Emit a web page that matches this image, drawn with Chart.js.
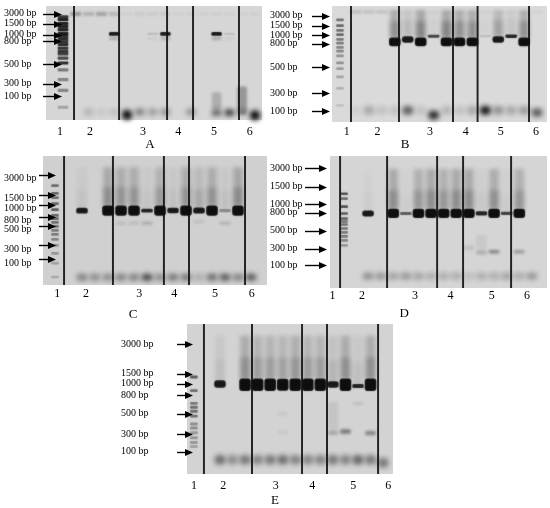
<!DOCTYPE html>
<html><head><meta charset="utf-8">
<script src="https://cdn.jsdelivr.net/npm/chart.js@4.4.1/dist/chart.umd.min.js"></script>
<style>
html,body{margin:0;padding:0;background:#fff;}
body{width:550px;height:508px;position:relative;overflow:hidden;}
canvas{position:absolute;}
</style></head><body>
<canvas id="cA"></canvas><canvas id="cB"></canvas><canvas id="cC"></canvas><canvas id="cD"></canvas><canvas id="cE"></canvas>
<script>
// ---------- shared labels ----------
const markerLabels = ['3000 bp','1500 bp','1000 bp','800 bp','500 bp','300 bp','100 bp'];
const laneNumbers = ['1','2','3','4','5','6'];
const panelLetters = ['A','B','C','D','E'];

// ---------- Panel A (migration in % of gel length, lanes 1..15) ----------
const A_tickPos = [6.9, 15.5, 25, 31, 51, 68, 79];
const A_groupPos = [-0.23, 2.1, 6.25, 9, 11.8, 14.6];
const A_sepPos = [0.86, 4.38, 8.13, 10.16, 13.75];
const A_ladderPos = [9.5,12,15.5,18,20.7,24,25.9,28.4,31,33.6,37,39.7,42,45.7,50,56,64.6,74,88.8];
const A_ladderInt = [0.8,0.9,0.9,0.9,0.9,0.9,0.85,0.85,0.8,0.85,0.8,0.8,0.75,0.7,0.85,0.45,0.4,0.4,0.25];
const A_prodPos = [24.5,24.5,24.5,24.5,24.5,24.5,24.5,24.5,24.5,24.5,24.5,24.5,24.5,24.5,24.5];
const A_prodInt = [0,0,0,0.95,0,0,0.12,0.95,0,0,0,0.95,0.1,0,0];
const A_prodThk = [0,0,0,2.8,0,0,1.5,2.8,0,0,0,2.8,1.5,0,0];
const A_smear = [0,0,0,0,0,0,0,0,0,0,0,0,0,0,0];
const A_wellInt = [0.3,0.18,0.25,0.15,0.03,0.05,0.05,0.06,0.03,0.03,0.03,0.03,0.03,0.03,0.03];
const A_dimerPos = [93,93,93,93,95.5,93,93,93,93,93,93,93.5,93.5,93,96];
const A_dimerInt = [0,0.18,0.08,0.12,1,0.45,0.3,0.35,0,0.35,0,0.6,0.8,0.25,1];
const A_dimerThk = [5,5,5,5,8,5,5,5,5,5,5,5,5,5,8];
const A_minor = [[4,28.5,1.5,0.3],[8,28.5,1.5,0.25],[12,28.5,1.5,0.3],[7,28.5,1.2,0.08],[13,28.5,1.2,0.08],[12,83,14,0.2],[14,83,24,0.32]];

// ---------- Panel B ----------
const B_tickPos = [8.5, 17, 25.4, 32.4, 52.5, 75.2, 90.7];
const B_groupPos = [0.28, 2.65, 6.72, 9.49, 12.19, 14.92];
const B_sepPos = [0.61, 4.32, 8.5, 10.4, 14.38];
const B_ladderPos = [12,17,21,24.6,28.8,32,35.6,39,43,49,54,61,71,85.6];
const B_ladderInt = [0.5,0.55,0.5,0.55,0.45,0.45,0.4,0.4,0.35,0.35,0.3,0.25,0.2,0.12];
const B_prodPos = [31,31,31,31,28.8,31,26,31,31,31,26,28.8,26,31,31];
const B_prodInt = [0,0,0,1,0.95,1,0.75,1,1,1,0.12,0.95,0.9,1,0];
const B_prodThk = [0,0,0,7,5,7,2,7,7,7,1.5,5,2.4,7,0];
const B_smear = [0,0,0,0.3,0.12,0.35,0.04,0.35,0.3,0.3,0.03,0.22,0.08,0.3,0];
const B_wellInt = [0.12,0.1,0.1,0.05,0.03,0.03,0.03,0.03,0.03,0.03,0.03,0.03,0.03,0.03,0.03];
const B_dimerPos = [90,90,90,90,90,90,94,90,90,90,90,90,90,90,92];
const B_dimerInt = [0.06,0.25,0.12,0.12,0.6,0.12,0.85,0.18,0.12,0.25,0.95,0.35,0.25,0.3,0.6];
const B_dimerThk = [7,7,7,7,7,7,7,7,7,7,7,7,7,7,7];
const B_minor = [];

// ---------- Panel C ----------
const C_tickPos = [17.7, 33, 40.8, 50, 57, 72.3, 83];
const C_groupPos = [-0.9, 1.31, 5.41, 8.1, 11.23, 14.05];
const C_sepPos = [-0.38, 3.38, 7.3, 9.23, 13.54];
const C_ladderPos = [23,29,32.3,36.9,41.5,46,48.5,51.5,54.6,57.7,60.8,64.6,69.2,75.4,83,93.8];
const C_ladderInt = [0.5,0.55,0.5,0.55,0.6,0.55,0.55,0.5,0.5,0.45,0.45,0.4,0.35,0.3,0.25,0.2];
const C_prodPos = [42.3,42.3,42.3,42.3,42.3,42.3,42.3,42.3,42.3,42.3,42.3,42.3,42.3,42.3];
const C_prodInt = [0.95,0,1,1,1,0.9,1,0.95,1,0.95,1,0.35,1,0];
const C_prodThk = [4,0,7.5,7.5,7.5,2.4,7.5,3.8,7.5,4.2,7.5,2,7.5,0];
const C_smear = [0.05,0,0.28,0.25,0.25,0.05,0.22,0.06,0.25,0.15,0.25,0.06,0.3,0];
const C_wellInt = [];
const C_dimerPos = [94,94,94,94,94,94,94,94,94,94,94,94,94,94];
const C_dimerInt = [0.4,0.35,0.35,0.4,0.4,0.7,0.35,0.45,0.45,0.18,0.5,0.6,0.4,0.6];
const C_dimerThk = [5,5,5,5,5,5,5,5,5,5,5,5,5,5];
const C_minor = [[4,52,1.5,0.12],[5,52,1.5,0.12],[6,52,1.5,0.22],[10,51,1.5,0.12],[12,52,1.5,0.18]];

// ---------- Panel D ----------
const D_tickPos = [9, 23.3, 36.6, 42.9, 56.6, 70.1, 82.7];
const D_groupPos = [-1.83, 0.52, 4.73, 7.55, 10.82, 13.62];
const D_sepPos = [-1.22, 2.51, 6.48, 8.54, 12.35];
const D_ladderPos = [28.6,32.3,38.3,43.6,47.4,49.6,51.9,54.9,57.9,60.9,63.9,67.7];
const D_ladderInt = [0.65,0.5,0.65,0.6,0.55,0.5,0.5,0.5,0.45,0.45,0.4,0.3];
const D_prodPos = [43.5,43.5,43.5,43.5,43.5,43.5,43.5,43.5,43.5,43.5,43.5,43.5,43.5,43.5];
const D_prodInt = [0.95,0,1,0.6,1,1,1,1,1,0.9,1,0.75,1,0];
const D_prodThk = [4,0,6.5,1.8,6.5,6.5,6.5,6.5,6.5,2.6,6.5,2,6.5,0];
const D_smear = [0.03,0,0.3,0.03,0.25,0.3,0.25,0.3,0.3,0.05,0.28,0.04,0.25,0];
const D_wellInt = [];
const D_dimerPos = [91,91,91,91,91,91,91,91,91,91,91,91,91,91];
const D_dimerInt = [0.35,0.3,0.25,0.3,0.25,0.2,0.2,0.2,0.12,0.2,0.2,0.25,0.2,0.3];
const D_dimerThk = [5,5,5,5,5,5,5,5,5,5,5,5,5,5];
const D_minor = [[9,69.5,3,0.1],[10,73,3,0.18],[11,72.5,2.2,0.4],[13,72.5,2.2,0.3],[10,65,10,0.06]];

// ---------- Panel E ----------
const E_tickPos = [13.5, 33.1, 39.7, 47.3, 59.7, 73.4, 85];
const E_groupPos = [-1.08, 1.26, 5.44, 8.36, 11.63, 14.42];
const E_sepPos = [-0.28, 3.55, 7.54, 9.53, 13.6];
const E_ladderPos = [35.3,44.4,52.9,55.5,58.2,61.4,66.7,69.3,72.5,75.8,79,81.7];
const E_ladderInt = [0.6,0.5,0.45,0.5,0.5,0.5,0.35,0.35,0.3,0.3,0.3,0.25];
const E_prodPos = [40,40.5,40.5,40.5,40.5,40.5,40.5,40.5,40.5,40.3,40.5,41.4,40.5,40.5];
const E_prodInt = [0.95,0,1,1,1,1,1,1,1,0.95,1,0.9,1,0];
const E_prodThk = [4.4,0,7.8,7.8,7.8,7.5,7.8,7.8,7.8,3.8,7.8,2.2,7.8,0];
const E_smear = [0.08,0,0.28,0.22,0.22,0.2,0.25,0.22,0.22,0.12,0.28,0.08,0.28,0];
const E_wellInt = [];
const E_dimerPos = [90.5,90.5,90.5,90.5,90.5,90.5,90.5,90.5,90.5,90.5,90.5,90.5,90.5,92.5];
const E_dimerInt = [0.5,0.35,0.45,0.4,0.45,0.5,0.4,0.4,0.4,0.45,0.4,0.55,0.45,0.45];
const E_dimerThk = [6,6,6,6,6,6,6,6,6,6,6,6,6,6];
const E_minor = [[10,72.5,2.4,0.22],[11,71.7,2.6,0.45],[13,72.7,2.4,0.4],[10,61,18,0.07],[12,53,1.5,0.1],[6,60,2,0.06],[6,72,2,0.06]];

// ---------- styling / layout (not data) ----------
const F = "'Liberation Serif','Times New Roman',serif";
Chart.defaults.font.family = F;
Chart.defaults.color = '#000';

const panels = [
  {id:'cA', letter:0, letterX:6.8, left:0, top:0, w:268, padL:4, padT:4, padR:6, yW:42, gelH:116, h1:16, h2:14, xPad:4.8, x2Pad:1.2,
   xMin:-1.33, xMax:15.55, ladderX:0, ax0:43, ax1:62, ady:0, gel:'#d6d6d6', prodW:10, ladW:10, ladT:2.2, dimW:10, smearTop:6, wellPos:7,
   d:{tick:A_tickPos, group:A_groupPos, sep:A_sepPos, ladP:A_ladderPos, ladI:A_ladderInt, pp:A_prodPos, pi:A_prodInt, pt:A_prodThk, sm:A_smear, well:A_wellInt, dp:A_dimerPos, di:A_dimerInt, dt:A_dimerThk, minor:A_minor}},
  {id:'cB', letter:1, letterX:4.79, left:270, top:0, w:280, padL:0, padT:4, padR:3, yW:62, gelH:118, h1:14, h2:14, xPad:2.8, x2Pad:1.2,
   xMin:-0.86, xMax:15.77, ladderX:-0.24, ax0:42, ax1:60, ady:0, gel:'#dadada', prodW:11, ladW:7, ladT:1.8, dimW:11, smearTop:4, wellPos:5,
   d:{tick:B_tickPos, group:B_groupPos, sep:B_sepPos, ladP:B_ladderPos, ladI:B_ladderInt, pp:B_prodPos, pi:B_prodInt, pt:B_prodThk, sm:B_smear, well:B_wellInt, dp:B_dimerPos, di:B_dimerInt, dt:B_dimerThk, minor:B_minor}},
  {id:'cC', letter:2, letterX:4.92, left:0, top:150, w:268, padL:4, padT:5, padR:1, yW:39, gelH:130, h1:16, h2:21, xPad:1.8, x2Pad:6.2,
   xMin:-2, xMax:15.23, ladderX:-1.08, ax0:39, ax1:56, ady:-4, gel:'#d0d0d0', prodW:11, ladW:7, ladT:1.6, dimW:11, smearTop:9, wellPos:5,
   d:{tick:C_tickPos, group:C_groupPos, sep:C_sepPos, ladP:C_ladderPos, ladI:C_ladderInt, pp:C_prodPos, pi:C_prodInt, pt:C_prodThk, sm:C_smear, well:C_wellInt, dp:C_dimerPos, di:C_dimerInt, dt:C_dimerThk, minor:C_minor}},
  {id:'cD', letter:3, letterX:3.86, left:270, top:150, w:280, padL:0, padT:4, padR:3, yW:60, gelH:134, h1:13, h2:20, xPad:0.5, x2Pad:4.9,
   xMin:-2.02, xMax:15.2, ladderX:-0.9, ax0:35, ax1:57, ady:0, gel:'#d5d5d5', prodW:11, ladW:7, ladT:1.5, dimW:11, smearTop:10, wellPos:5,
   d:{tick:D_tickPos, group:D_groupPos, sep:D_sepPos, ladP:D_ladderPos, ladI:D_ladderInt, pp:D_prodPos, pi:D_prodInt, pt:D_prodThk, sm:D_smear, well:D_wellInt, dp:D_dimerPos, di:D_dimerInt, dt:D_dimerThk, minor:D_minor}},
  {id:'cE', letter:4, letterX:5.38, left:118, top:318, w:290, padL:3, padT:3, padR:15, yW:66, gelH:153, h1:18, h2:16, xPad:4.8, x2Pad:1.2,
   xMin:-1.63, xMax:14.79, ladderX:-1.08, ax0:59, ax1:75, ady:0, gel:'#d3d3d3', prodW:11, ladW:7, ladT:1.5, dimW:11, smearTop:8, wellPos:5,
   d:{tick:E_tickPos, group:E_groupPos, sep:E_sepPos, ladP:E_ladderPos, ladI:E_ladderInt, pp:E_prodPos, pi:E_prodInt, pt:E_prodThk, sm:E_smear, well:E_wellInt, dp:E_dimerPos, di:E_dimerInt, dt:E_dimerThk, minor:E_minor}}
];

const shade = c => (c.raw && c.raw.a !== undefined) ? 'rgba(14,14,14,' + c.raw.a + ')' : 'rgba(0,0,0,0)';
function bandSet(data, order, thick, extra) {
  return Object.assign({type:'bar', data, order, grouped:false, barThickness:thick, borderWidth:0,
    borderSkipped:false, backgroundColor:shade, borderRadius:0}, extra || {});
}

function buildDatasets(P) {
  const d = P.d, sets = [];
  sets.push(bandSet(d.sep.map(x => ({x, y:[0,100], a:0.9})), 0, 1.3, {}));
  const prod = [];
  d.pi.forEach((a,i) => { if (a > 0) { const t = d.pt[i]; prod.push({x:i+1, y:[d.pp[i]-t/2, d.pp[i]+t/2], a}); } });
  sets.push(bandSet(prod, 1, P.prodW, {borderRadius:3, blur:0.6, clip:false}));
  sets.push(bandSet(d.ladP.map((p,i) => ({x:P.ladderX, y:[p-P.ladT/2, p+P.ladT/2], a:d.ladI[i]})), 2, P.ladW, {borderRadius:1, blur:0.5, clip:false}));
  sets.push(bandSet(d.minor.map(m => ({x:m[0], y:[m[1]-m[2]/2, m[1]+m[2]/2], a:m[3]})), 3, P.prodW - 1, {borderRadius:2, blur:1.5, clip:false}));
  const dim = [];
  d.di.forEach((a,i) => { if (a > 0) { const t = d.dt[i]; dim.push({x:i+1, y:[d.dp[i]-t/2, d.dp[i]+t/2], a}); } });
  sets.push(bandSet(dim, 4, P.dimW - 1, {borderRadius:4, blur:2.8, clip:false}));
  sets.push(bandSet(d.well.map((a,i) => ({x:i+1, y:[P.wellPos-1.5, P.wellPos+1.5], a})), 5, P.prodW, {blur:1.2, clip:false}));
  const sm = [];
  d.sm.forEach((a,i) => { if (a > 0) {
    const top = d.pp[i] - d.pt[i]/2;
    sm.push({x:i+1, y:[P.smearTop, top], a:a*0.7});
    sm.push({x:i+1, y:[Math.max(P.smearTop, top-14), top], a:a*0.6});
  } });
  sets.push(bandSet(sm, 6, P.prodW - 2, {blur:2, clip:false}));
  return sets;
}

const SHIFT = 3000;
const gelPlugin = {
  id:'gel',
  beforeDatasetsDraw(chart, args, o) {
    const {ctx, chartArea:ca} = chart;
    ctx.save(); ctx.fillStyle = o.color; ctx.fillRect(ca.left, ca.top, ca.right-ca.left, ca.bottom-ca.top); ctx.restore();
  },
  beforeDatasetDraw(chart, args) {
    const ds = chart.data.datasets[args.index];
    if (ds.blur) {
      const ctx = chart.ctx, r = chart.currentDevicePixelRatio || 1;
      ctx.save();
      ctx.translate(-SHIFT, 0);
      ctx.shadowOffsetX = SHIFT * r;
      ctx.shadowOffsetY = 0;
      ctx.shadowColor = 'rgba(14,14,14,1)';
      ctx.shadowBlur = ds.blur * 2 * r;
      ds._b = true;
    }
  },
  afterDatasetDraw(chart, args) {
    const ds = chart.data.datasets[args.index];
    if (ds._b) { chart.ctx.restore(); ds._b = false; }
  },
  afterDraw(chart, args, o) {
    const {ctx} = chart, ys = chart.scales.y;
    ctx.save(); ctx.strokeStyle = '#000'; ctx.fillStyle = '#000'; ctx.lineWidth = 1.4;
    o.ticks.forEach(v => {
      const y = Math.round(ys.getPixelForValue(v) + o.dy) + 0.5;
      ctx.beginPath(); ctx.moveTo(o.x0, y); ctx.lineTo(o.x1 - 6, y); ctx.stroke();
      ctx.beginPath(); ctx.moveTo(o.x1, y); ctx.lineTo(o.x1 - 8, y - 3.6); ctx.lineTo(o.x1 - 8, y + 3.6); ctx.closePath(); ctx.fill();
    });
    ctx.restore();
  }
};

panels.forEach(P => {
  const cv = document.getElementById(P.id);
  const H = P.padT + P.gelH + P.h1 + P.h2;
  cv.width = P.w; cv.height = H;
  cv.style.left = P.left + 'px'; cv.style.top = P.top + 'px';
  new Chart(cv, {
    type:'bar',
    data:{datasets: buildDatasets(P)},
    plugins:[gelPlugin],
    options:{
      responsive:false, animation:false, events:[],
      layout:{padding:{left:P.padL, right:P.padR, top:P.padT, bottom:0}},
      plugins:{legend:{display:false}, tooltip:{enabled:false},
        gel:{color:P.gel, ticks:P.d.tick, x0:P.ax0, x1:P.ax1, dy:P.ady}},
      scales:{
        x:{type:'linear', position:'bottom', weight:0, min:P.xMin, max:P.xMax, offset:false,
           grid:{display:false, drawTicks:false}, border:{display:false},
           afterBuildTicks: s => { s.ticks = P.d.group.map(v => ({value:v})); },
           afterFit: s => { s.height = P.h1; },
           ticks:{autoSkip:false, maxRotation:0, minRotation:0, padding:P.xPad, font:{size:12}, color:'#000',
                  callback:(v,i) => laneNumbers[i]}},
        x2:{type:'linear', position:'bottom', weight:1, min:P.xMin, max:P.xMax, offset:false,
           grid:{display:false, drawTicks:false}, border:{display:false},
           afterBuildTicks: s => { s.ticks = [{value:P.letterX}]; },
           afterFit: s => { s.height = P.h2; },
           ticks:{autoSkip:false, maxRotation:0, minRotation:0, padding:P.x2Pad, font:{size:13}, color:'#000',
                  callback:() => panelLetters[P.letter]}},
        y:{type:'linear', position:'left', min:0, max:100, reverse:true,
           grid:{display:false, drawTicks:false}, border:{display:false},
           afterBuildTicks: s => { s.ticks = P.d.tick.map(v => ({value:v})); },
           afterFit: s => { s.width = P.yW; },
           ticks:{autoSkip:false, crossAlign:'far', padding:0, font:{size:10}, color:'#000',
                  callback:(v,i) => markerLabels[i]}}
      }
    }
  });
});
</script>
</body></html>
